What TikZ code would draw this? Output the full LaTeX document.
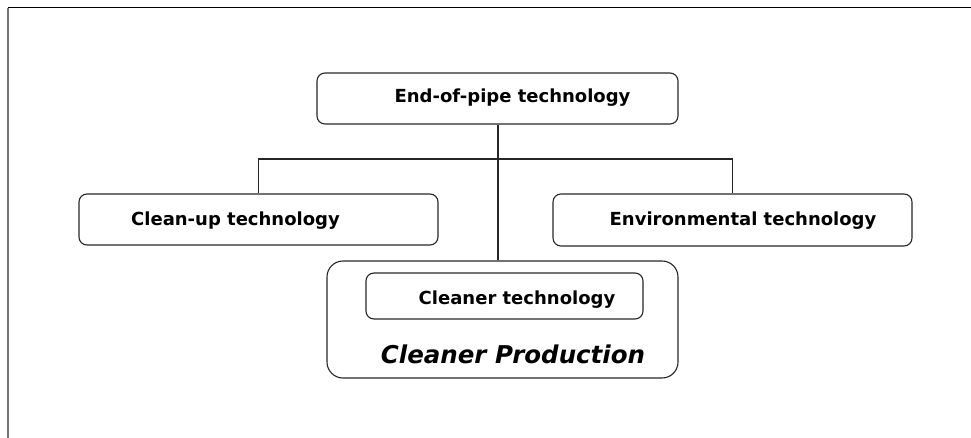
\documentclass[tikz,border=0pt]{standalone}
\usepackage{fontspec}
\setmainfont{DejaVu Sans}
\begin{document}
\begin{tikzpicture}[x=1pt,y=-1pt,
  techbox/.style={draw=black!85, line width=1.1pt, rounded corners=8pt, inner sep=0pt},
  techtext/.style={inner sep=0pt, anchor=base, font=\fontsize{18}{21}\selectfont\bfseries},
  cptext/.style={inner sep=0pt, anchor=base, font=\fontsize{24.5}{28}\selectfont\bfseries\itshape},
  link/.style={draw=black!85, line width=1.1pt}]
\useasboundingbox (0,0) rectangle (971,438);
% page frame: top and left edges only
\draw[line width=1.6pt, black!55] (8,438) -- (8,8);
\draw[line width=1pt, black] (8,8) -- (971,8);

% boxes
\node[techbox, minimum width=361pt, minimum height=51pt] (eop) at (497.5,98.5) {};
\node[techbox, minimum width=359pt, minimum height=51pt] (cu) at (258.5,219.5) {};
\node[techbox, minimum width=359pt, minimum height=52pt] (env) at (732.5,220) {};
\node[techbox, rounded corners=16pt, minimum width=351pt, minimum height=117pt] (cp) at (502.5,319.5) {};
\node[techbox, minimum width=277pt, minimum height=46pt] (ct) at (504.5,296) {};

% labels
\node[techtext] (eopT) at (512.5,102.3) {End-of-pipe technology};
\node[techtext] (cuT) at (235.5,226) {Clean-up technology};
\node[techtext] (envT) at (743,225.5) {Environmental technology};
\node[techtext] (ctT) at (517,304) {Cleaner technology};
\node[cptext] (cpT) at (513,363) {Cleaner Production};

% connectors
\coordinate (j) at (498,159);
\draw[link] (eop.south -| j) -- (j |- cp.north);
\draw[link] (cu.north) |- (j) -| (env.north);
\end{tikzpicture}
\end{document}
